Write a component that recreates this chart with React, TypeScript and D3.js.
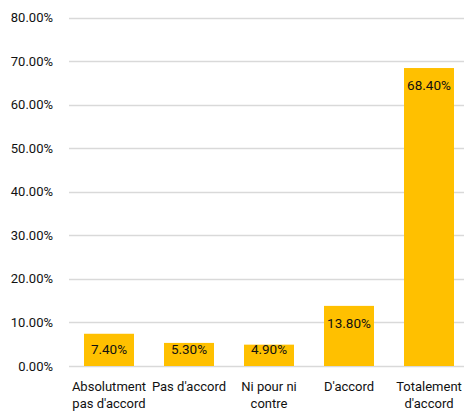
import React from "react";
import * as d3 from "d3";

const categories: string[][] = [
  ["Absolutment", "pas d'accord"],
  ["Pas d'accord"],
  ["Ni pour ni", "contre"],
  ["D'accord"],
  ["Totalement", "d'accord"],
];
const values: number[] = [7.4, 5.3, 4.9, 13.8, 68.4];
const yTicks: number[] = [0, 10, 20, 30, 40, 50, 60, 70, 80];

const W = 464;
const H = 412;
const FONT = "Roboto, 'Noto Sans', sans-serif";

export default function App() {
  const keys = categories.map((c) => c.join(" "));
  const x = d3.scaleBand<string>().domain(keys).range([69, 469]).paddingInner(0.375).paddingOuter(0.1875);
  const y = d3.scaleLinear().domain([0, 80]).range([366, 17.5]);

  return (
    <div style={{ position: "absolute", left: 0, top: 0 }}>
      <svg width={W} height={H} style={{ display: "block", background: "#fff" }} fontFamily={FONT}>
        {yTicks.map((t) => (
          <g key={t}>
            <line x1={69} x2={W} y1={Math.round(y(t)) + 0.5} y2={Math.round(y(t)) + 0.5} stroke="#d9d9d9" strokeWidth={1.5} />
            <text x={53} y={y(t)} dy="0.35em" textAnchor="end" fontSize={13} fill="#111">
              {t.toFixed(2) + "%"}
            </text>
          </g>
        ))}
        {values.map((v, i) => {
          const k = keys[i];
          const bx = x(k)!;
          const bw = x.bandwidth();
          const top = y(v);
          const ly = Math.min(top + 22, y(0) - 12);
          return (
            <g key={k}>
              <rect x={bx} y={top} width={bw} height={y(0) - top} fill="#FFC000" />
              <text x={bx + bw / 2} y={ly} textAnchor="middle" fontSize={13.5} fill="#111">
                {v.toFixed(2) + "%"}
              </text>
            </g>
          );
        })}
        {categories.map((lines, i) => {
          const k = keys[i];
          const cx = x(k)! + x.bandwidth() / 2;
          return (
            <text key={k} x={cx} y={391} textAnchor="middle" fontSize={13} fill="#111">
              {lines.map((l, j) => (
                <tspan key={j} x={cx} y={391 + j * 16.5}>
                  {l}
                </tspan>
              ))}
            </text>
          );
        })}
      </svg>
    </div>
  );
}
